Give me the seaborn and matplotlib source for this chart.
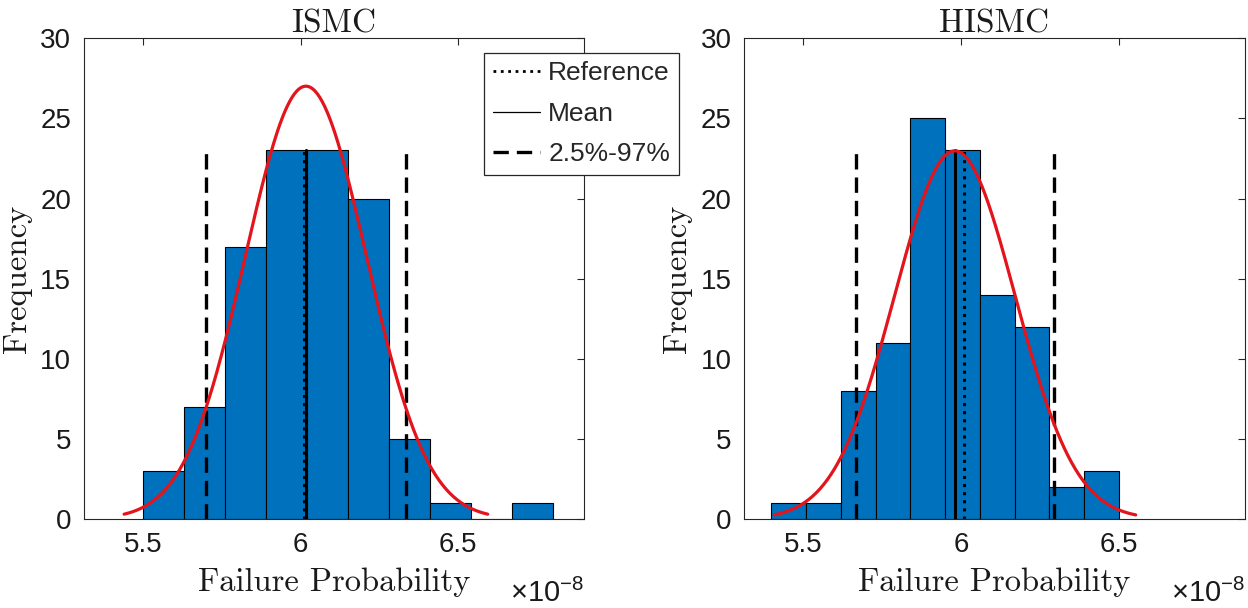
import numpy as np
import pandas as pd
import matplotlib
matplotlib.use("Agg")
import matplotlib.pyplot as plt
from matplotlib.lines import Line2D
import seaborn as sns

# ---------------- data (values in units of 1e-8) ----------------
titles = ["ISMC", "HISMC"]

ismc_edges = [5.50, 5.63, 5.76, 5.89, 6.02, 6.15, 6.28, 6.41, 6.54, 6.67, 6.80]
ismc_counts = [3, 7, 17, 23, 23, 20, 5, 1, 0, 1]
ismc_mean = 6.017
ismc_sigma = 0.192
ismc_ci = [5.702, 6.335]

hismc_edges = [5.40, 5.51, 5.62, 5.73, 5.84, 5.95, 6.06, 6.17, 6.28, 6.39, 6.50]
hismc_counts = [1, 1, 8, 11, 25, 23, 14, 12, 2, 3]
hismc_mean = 5.981
hismc_sigma = 0.191
hismc_ci = [5.668, 6.295]

reference_value = 6.011
n_samples = 100
marker_line_top = 23

x_ticks = [5.5, 6.0, 6.5]
x_ticklabels = ["5.5", "6", "6.5"]
y_ticks = [0, 5, 10, 15, 20, 25, 30]
legend_labels = ["Reference", "Mean", "2.5%-97%"]

# ---------------- style ----------------
sns.set_theme(style="white")
plt.rcParams["font.family"] = ["Liberation Sans", "DejaVu Sans"]
plt.rcParams["axes.edgecolor"] = "#262626"
plt.rcParams["axes.linewidth"] = 0.8

BAR = "#0072BD"
RED = "#E3141B"
SERIF = "cmr10"

W, H = 1248, 608
fig = plt.figure(figsize=(W / 100, H / 100), dpi=100)
ax_l = fig.add_axes([83.7 / W, (H - 519) / H, 500.6 / W, 480.7 / H])
ax_r = fig.add_axes([744.0 / W, (H - 519) / H, 500.6 / W, 480.7 / H])

panels = [
    (ax_l, ismc_edges, ismc_counts, ismc_mean, ismc_sigma, ismc_ci),
    (ax_r, hismc_edges, hismc_counts, hismc_mean, hismc_sigma, hismc_ci),
]

for (ax, edges, counts, mu, sd, ci), title in zip(panels, titles):
    edges_a = np.asarray(edges)
    centers = (edges_a[:-1] + edges_a[1:]) / 2
    df = pd.DataFrame({"x": centers, "count": counts})
    sns.histplot(data=df, x="x", weights="count", bins=edges, ax=ax,
                 color=BAR, alpha=1, edgecolor="black", linewidth=0.8,
                 stat="count", zorder=1)

    # vertical marker lines
    ax.plot([reference_value, reference_value], [0, marker_line_top],
            color="black", linestyle=":", linewidth=2.2, zorder=3)
    ax.plot([mu, mu], [0, marker_line_top], color="black",
            linestyle="-", linewidth=2.2, zorder=3)
    for c in ci:
        ax.plot([c, c], [0, marker_line_top], color="black",
                linestyle=(0, (4.6, 2.4)), linewidth=2.4, zorder=3)

    # fitted normal curve (histfit style)
    binw = edges_a[1] - edges_a[0]
    xs = np.linspace(mu - 3 * sd, mu + 3 * sd, 300)
    ys = n_samples * binw * np.exp(-0.5 * ((xs - mu) / sd) ** 2) / (sd * np.sqrt(2 * np.pi))
    sns.lineplot(x=xs, y=ys, ax=ax, color=RED, linewidth=2.3, zorder=4)

    ax.set_xlim(5.313, 6.899)
    ax.set_ylim(0, 30)
    ax.set_xticks(x_ticks)
    ax.set_xticklabels(x_ticklabels)
    ax.set_yticks(y_ticks)
    ax.tick_params(direction="in", top=True, right=True, length=5, width=0.8,
                   colors="#262626", labelcolor="#1a1a1a", labelsize=20, pad=9)
    for s in ax.spines.values():
        s.set_visible(True)
        s.set_color("#262626")
        s.set_linewidth(0.8)

    ax.set_title(title, fontfamily=SERIF, fontsize=24, pad=4, color="#1a1a1a")
    ax.set_xlabel("Failure Probability", fontfamily=SERIF, fontsize=23.5,
                  labelpad=7, color="#1a1a1a")
    ax.set_ylabel("Frequency", fontfamily=SERIF, fontsize=23.5,
                  labelpad=6, color="#1a1a1a")

    ax.annotate("\u00d710$^{\\mathregular{-8}}$", xy=(1.0, 0.0), xycoords="axes fraction",
                xytext=(0, -60), textcoords="offset points", ha="right",
                va="baseline", fontsize=21, color="#1a1a1a")

handles = [
    Line2D([], [], color="black", linestyle=":", linewidth=2.0),
    Line2D([], [], color="black", linestyle="-", linewidth=0.9),
    Line2D([], [], color="black", linestyle=(0, (4.6, 2.4)), linewidth=2.4),
]
leg = ax_l.legend(handles, legend_labels, loc="upper left",
                  bbox_to_anchor=(484 / W, 1 - 52.7 / H),
                  bbox_transform=fig.transFigure, fontsize=19,
                  frameon=True, fancybox=False, framealpha=1,
                  edgecolor="#262626", handlelength=1.8, handletextpad=0.3,
                  borderpad=0.33, labelspacing=0.62, borderaxespad=0)
leg.get_frame().set_linewidth(0.9)
leg.set_zorder(10)

fig.savefig("out.png", dpi=100)
